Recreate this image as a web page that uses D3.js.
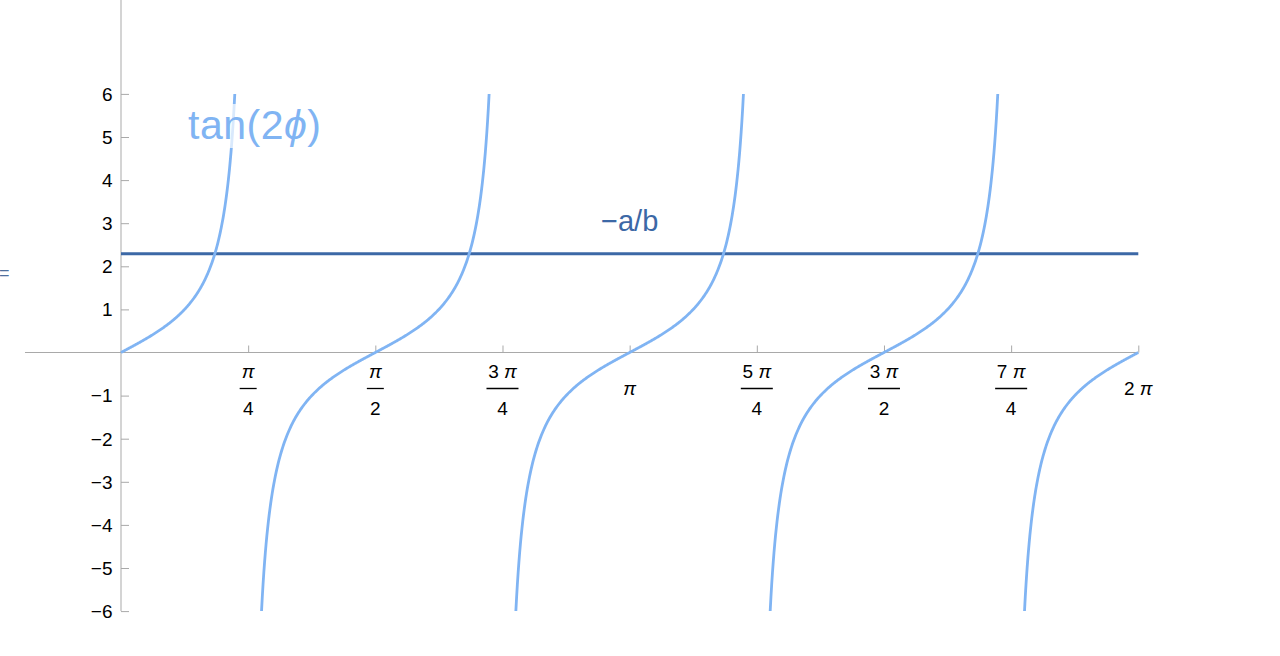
<!DOCTYPE html>
<html>
<head>
<meta charset="utf-8">
<script src="https://cdn.jsdelivr.net/npm/d3@7"></script>
<style>
  html, body { margin: 0; padding: 0; background: #fff; }
  svg { display: block; }
  text { font-family: "Liberation Sans", Arial, Helvetica, sans-serif; }
  .pi { font-style: italic; }
</style>
</head>
<body>
<svg id="chart" width="1280" height="656"></svg>
<script>
// ---- data ----
const PI = Math.PI;
const xDomain = [0, 2 * PI];
const yDomain = [-6, 6];
const yTickValues = [-6, -5, -4, -3, -2, -1, 1, 2, 3, 4, 5, 6];
const yTickLabels = ["\u22126", "\u22125", "\u22124", "\u22123", "\u22122", "\u22121", "1", "2", "3", "4", "5", "6"];
const xTickValues = [PI / 4, PI / 2, 3 * PI / 4, PI, 5 * PI / 4, 3 * PI / 2, 7 * PI / 4, 2 * PI];
const xTickCoefs = ["", "", "3", "", "5", "3", "7", "2"];
const xTickDenominators = ["4", "2", "4", "", "4", "2", "4", ""];
const branchIndex = [0, 1, 2, 3, 4];          // branches of tan(2φ) between asymptotes
const negAoverB = [2.29];                      // value of the horizontal line −a/b
const curveLabelText = "tan(2";
const curveLabelSymbol = "\u03d5";
const lineLabel = "\u2212a/b";

// ---- layout ----
const svg = d3.select("#chart");
const x = d3.scaleLinear().domain(xDomain).range([121, 1138.3]);
const y = d3.scaleLinear().domain(yDomain).range([611.1, 93.9]);

const curveColor = "#80b4f3";
const lineColor = "#3c68a6";
const axisColor = "#a9a9a9";

// axes lines
svg.append("line")
  .attr("x1", x(0)).attr("x2", x(0))
  .attr("y1", 0).attr("y2", y(-6))
  .attr("stroke", axisColor).attr("stroke-width", 1);
svg.append("line")
  .attr("x1", x(-0.593)).attr("x2", x(2 * PI))
  .attr("y1", y(0)).attr("y2", y(0))
  .attr("stroke", axisColor).attr("stroke-width", 1);

// y axis ticks
const yAxis = d3.axisLeft(y).tickValues(yTickValues).tickSize(-8).tickFormat("");
const gy = svg.append("g").attr("transform", `translate(${x(0)},0)`).call(yAxis);
gy.select(".domain").remove();
gy.selectAll(".tick line").attr("stroke", axisColor);
svg.append("g").selectAll("text").data(yTickValues).join("text")
  .attr("x", x(0) - 8.5)
  .attr("y", d => y(d))
  .attr("dy", "0.36em")
  .attr("text-anchor", "end")
  .attr("font-size", 19)
  .attr("fill", "#000")
  .text((d, i) => yTickLabels[i]);

// x axis ticks
const xAxis = d3.axisBottom(x).tickValues(xTickValues).tickSize(-7).tickFormat("");
const gx = svg.append("g").attr("transform", `translate(0,${y(0)})`).call(xAxis);
gx.select(".domain").remove();
gx.selectAll(".tick line").attr("stroke", axisColor);

function numText(sel, coef) {
  if (coef) sel.append("tspan").text(coef + " ");
  sel.append("tspan").attr("class", "pi").text("\u03c0");
}

const xl = svg.append("g").selectAll("g").data(xTickValues).join("g")
  .attr("transform", d => `translate(${x(d)},0)`);
xl.each(function (d, i) {
  const g = d3.select(this);
  const coef = xTickCoefs[i], den = xTickDenominators[i];
  if (den) {
    const t = g.append("text").attr("x", 0).attr("y", y(0) + 25).attr("text-anchor", "middle")
      .attr("font-size", 19);
    numText(t, coef);
    const w = coef ? 32 : 17;
    g.append("line").attr("x1", -w / 2).attr("x2", w / 2)
      .attr("y1", y(0) + 36).attr("y2", y(0) + 36)
      .attr("stroke", "#000").attr("stroke-width", 1.3);
    g.append("text").attr("x", 0).attr("y", y(0) + 62.5).attr("text-anchor", "middle")
      .attr("font-size", 19).text(den);
  } else {
    const t = g.append("text").attr("x", 0).attr("y", y(0) + 42).attr("text-anchor", "middle")
      .attr("font-size", 19);
    numText(t, coef);
  }
});

// clip
const defs = svg.append("defs");
defs.append("clipPath").attr("id", "plotclip").append("rect")
  .attr("x", x(0) - 2).attr("y", y(6)).attr("width", x(2 * PI) - x(0) + 4).attr("height", y(-6) - y(6));

const plot = svg.append("g").attr("clip-path", "url(#plotclip)");

// horizontal line −a/b
plot.selectAll("line.hl").data(negAoverB).join("line")
  .attr("class", "hl")
  .attr("x1", x(0)).attr("x2", x(2 * PI))
  .attr("y1", d => y(d)).attr("y2", d => y(d))
  .attr("stroke", lineColor).attr("stroke-width", 3);

// tan(2φ) branches
const lim = Math.atan(6);
const branches = branchIndex.map(k => {
  const a = Math.max(xDomain[0], (k * PI - lim) / 2);
  const b = Math.min(xDomain[1], (k * PI + lim) / 2);
  const n = 300;
  return d3.range(n + 1).map(j => {
    const t = a + (b - a) * j / n;
    return [t, Math.tan(2 * t)];
  });
});
const lineGen = d3.line().x(d => x(d[0])).y(d => y(d[1]));
plot.selectAll("path.br").data(branches).join("path")
  .attr("class", "br")
  .attr("d", lineGen)
  .attr("fill", "none")
  .attr("stroke", curveColor)
  .attr("stroke-width", 2.8);

// curve label with translucent background
const lab = svg.append("g");
lab.append("rect").attr("x", 187).attr("y", 104).attr("width", 136).attr("height", 44)
  .attr("fill", "#fff").attr("opacity", 0.7);
const lt = lab.append("text").attr("x", 188).attr("y", 139)
  .attr("font-size", 41).attr("letter-spacing", 0.5).attr("fill", curveColor);
lt.append("tspan").text(curveLabelText);
lt.append("tspan").attr("font-style", "italic").text(curveLabelSymbol);
lt.append("tspan").text(")");

// line label
svg.append("text").attr("x", x(PI)).attr("y", 231).attr("text-anchor", "middle")
  .attr("font-size", 29).attr("fill", lineColor).text(lineLabel);

// stray "=" at left edge
svg.append("text").attr("x", -1).attr("y", 279)
  .attr("font-size", 18).attr("fill", "#4f6f9c").text("=");
</script>
</body>
</html>
